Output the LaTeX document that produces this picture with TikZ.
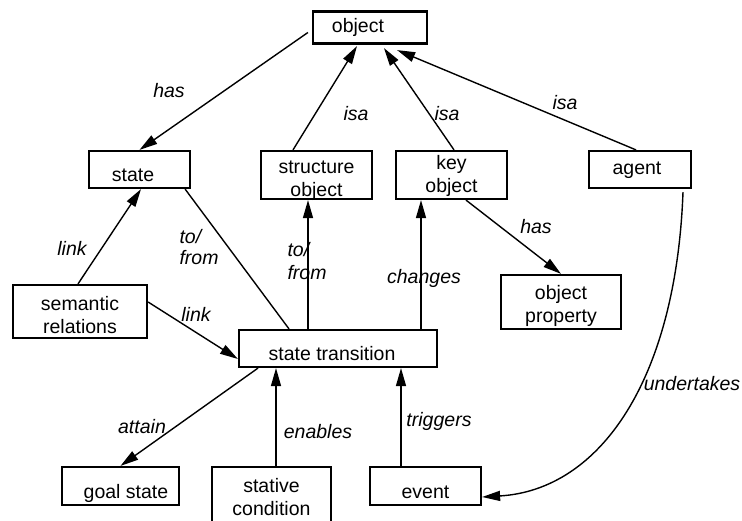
\documentclass[tikz,border=0pt]{standalone}
\usepackage{fontspec}
\setmainfont{Liberation Sans}
\usetikzlibrary{arrows.meta}

\begin{document}
\begin{tikzpicture}[x=1pt,y=-1pt,
	box/.style={draw,line width=2.2pt,inner sep=2pt,font=\fontsize{19.5}{23}\selectfont,text height=14pt,text depth=4pt},
	lowbox/.style={box,text height=26pt,text depth=2pt},
	twobox/.style={box,align=center,text depth=0pt},
	lbl/.style={inner sep=0pt,font=\fontsize{19.5}{21}\selectfont\itshape},
	arr/.style={line width=1.4pt,-{Triangle[length=18pt,width=10pt]}},
	ln/.style={line width=1.4pt}]
	\useasboundingbox (0,0) rectangle (742,521);
	% boxes
	\node[box,minimum width=114pt,minimum height=32pt] (obj) at (370,27.5) {object\hspace*{24pt}};
	\node[lowbox,minimum width=101pt,minimum height=37pt] (state) at (139.5,169.5) {state\hspace*{13pt}};
	\node[twobox,text height=44pt,minimum width=111pt,minimum height=48pt] (strobj) at (316.5,175) {structure\\object};
	\node[twobox,text height=36pt,minimum width=111pt,minimum height=48pt] (keyobj) at (451.5,175) {key\\object};
	\node[box,minimum width=102pt,minimum height=37pt] (agent) at (640,169.5) {agent\hspace*{6pt}};
	\node[twobox,text height=45pt,minimum width=134pt,minimum height=53pt] (semrel) at (80,311.5) {semantic\\relations};
	\node[lowbox,minimum width=198pt,minimum height=37pt] (trans) at (338,348.5) {state transition\hspace*{12pt}};
	\node[twobox,text height=42pt,minimum width=120pt,minimum height=54pt] (objprop) at (561,302) {object\\property};
	\node[lowbox,minimum width=117pt,minimum height=38pt] (goal) at (120.5,486) {\hspace*{11pt}goal state};
	\node[twobox,text height=38pt,minimum width=119pt,minimum height=58pt] (stative) at (271.5,496) {stative\\condition};
	\node[lowbox,minimum width=111pt,minimum height=38pt] (event) at (425.5,486) {event};
	% links
	\draw[arr] ([shift={(-4pt,-5pt)}]obj.west) -- (state.north);
	\draw[arr] ([xshift=-23.5pt]strobj.north) -- ([shift={(-13pt,-1.5pt)}]obj.south);
	\draw[arr] ([xshift=2.5pt]keyobj.north) -- ([shift={(14pt,-3.5pt)}]obj.south);
	\draw[arr] ([xshift=-4pt]agent.north) -- ([shift={(-31pt,-5.5pt)}]obj.south east);
	\draw[arr] ([xshift=-2pt]semrel.north) -- ([xshift=1.5pt]state.south);
	\draw[ln] ([xshift=-6pt]state.south east) -- ([xshift=-49pt]trans.north);
	\draw[arr] ([xshift=-30pt]trans.north) -- ([xshift=-8.5pt]strobj.south);
	\draw[arr] ([yshift=9.5pt]semrel.east) -- ([yshift=-10.5pt]trans.west);
	\draw[arr] ([xshift=83pt]trans.north) -- ([xshift=-30.5pt]keyobj.south);
	\draw[arr] ([xshift=14.5pt]keyobj.south) -- (objprop.north);
	\draw[arr] ([shift={(43pt,-3pt)}]agent.south) .. controls (676,380) and (600,490) .. ([yshift=-11pt]event.east);
	\draw[arr] ([xshift=-80pt]trans.south) -- (goal.north);
	\draw[arr] ([xshift=4.5pt]stative.north) -- ([xshift=-62pt]trans.south);
	\draw[arr] ([xshift=-24.5pt]event.north) -- ([xshift=63pt]trans.south);
	% labels
	\node[lbl] (l-has1) at (169,91) {has};
	\node[lbl] (l-isa1) at (356,114) {isa};
	\node[lbl] (l-isa2) at (447,114) {isa};
	\node[lbl] (l-isa3) at (565,103) {isa};
	\node[lbl] (l-link1) at (72,248) {link};
	\node[lbl,align=left] (l-tofrom1) at (199,247) {to/\\from};
	\node[lbl,align=left] (l-tofrom2) at (307,261) {to/\\[2pt]from};
	\node[lbl] (l-link2) at (196,314) {link};
	\node[lbl] (l-changes) at (424,278) {changes};
	\node[lbl] (l-has2) at (536,227) {has};
	\node[lbl] (l-undertakes) at (692,384) {undertakes};
	\node[lbl] (l-attain) at (142,427) {attain};
	\node[lbl] (l-enables) at (318,432) {enables};
	\node[lbl] (l-triggers) at (439,421) {triggers};
\end{tikzpicture}
\end{document}
